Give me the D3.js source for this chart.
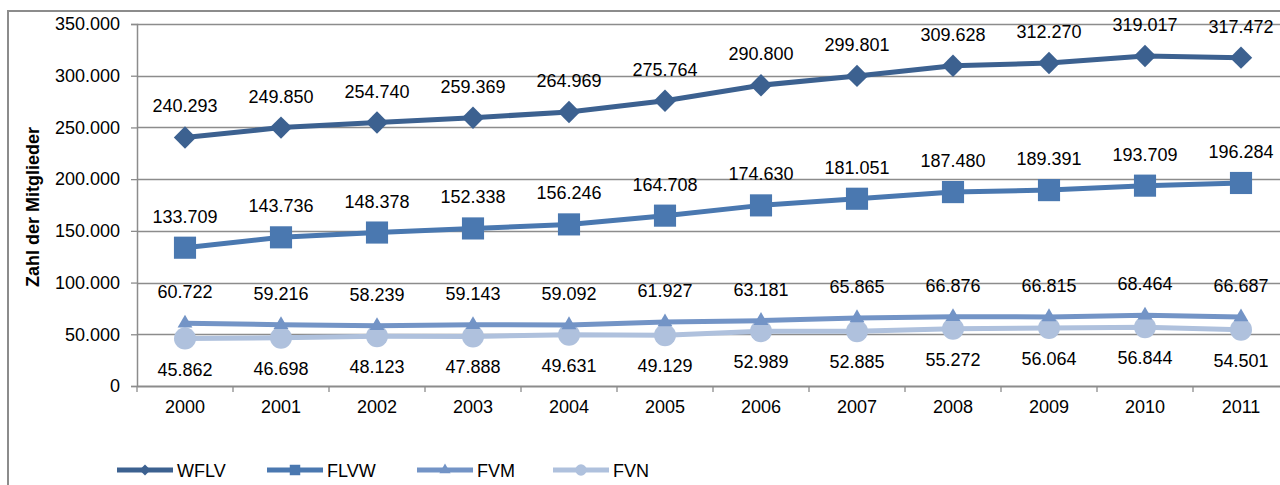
<!DOCTYPE html>
<html>
<head>
<meta charset="utf-8">
<script src="https://cdn.jsdelivr.net/npm/d3@7"></script>
<style>
  html, body { margin: 0; padding: 0; background: #fff; }
  svg { display: block; font-family: "Liberation Sans", Arial, sans-serif; }
</style>
</head>
<body>
<svg id="chart" width="1280" height="485"></svg>
<script>
// Mitgliederzahlen der Verbände 2000–2011
const years = ["2000","2001","2002","2003","2004","2005","2006","2007","2008","2009","2010","2011"];
const wflv = [240293, 249850, 254740, 259369, 264969, 275764, 290800, 299801, 309628, 312270, 319017, 317472];
const flvw = [133709, 143736, 148378, 152338, 156246, 164708, 174630, 181051, 187480, 189391, 193709, 196284];
const fvm  = [60722, 59216, 58239, 59143, 59092, 61927, 63181, 65865, 66876, 66815, 68464, 66687];
const fvn  = [45862, 46698, 48123, 47888, 49631, 49129, 52989, 52885, 55272, 56064, 56844, 54501];
const yTicks = [0, 50000, 100000, 150000, 200000, 250000, 300000, 350000];
const seriesNames = ["WFLV", "FLVW", "FVM", "FVN"];

// Square turned by 45°, as wide as it is tall
const symbolRhomb = {
  draw(ctx, size) {
    const r = Math.sqrt(size / 2);
    ctx.moveTo(0, -r); ctx.lineTo(r, 0); ctx.lineTo(0, r); ctx.lineTo(-r, 0); ctx.closePath();
  }
};

const series = [
  { name: seriesNames[0], values: wflv, color: "#3c6190", symbol: symbolRhomb, size: 250, legendSize: 60, labelPos: "above" },
  { name: seriesNames[1], values: flvw, color: "#4a78b0", symbol: d3.symbolSquare, size: 490, legendSize: 110, labelPos: "above" },
  { name: seriesNames[2], values: fvm,  color: "#7394c6", symbol: d3.symbolTriangle, size: 95, legendSize: 55, labelPos: "above" },
  { name: seriesNames[3], values: fvn,  color: "#afc1dd", symbol: d3.symbolCircle, size: 380, legendSize: 100, labelPos: "below" }
];

const FS = 18;
const svg = d3.select("#chart");
const fmt = d3.formatLocale({ decimal: ",", thousands: ".", grouping: [3], currency: ["", "€"] }).format(",d");

// Plot area
const plotLeft = 137, plotTop = 24, plotBottom = 386;
const bandW = 96;
const x = d3.scaleBand().domain(years).range([plotLeft, plotLeft + bandW * years.length]);
const y = d3.scaleLinear().domain([0, 350000]).range([plotBottom, plotTop]);

// Outer frame (left and top edges visible)
svg.append("path")
  .attr("d", "M8,485 L8,11 L1280,11")
  .attr("fill", "none").attr("stroke", "#8c8c8c").attr("stroke-width", 2);

// Gridlines
svg.append("g").selectAll("line").data(yTicks.filter(t => t > 0)).join("line")
  .attr("x1", plotLeft).attr("x2", 1280)
  .attr("y1", d => Math.round(y(d)) + 0.5).attr("y2", d => Math.round(y(d)) + 0.5)
  .attr("stroke", "#8c8c8c").attr("stroke-width", 1.3);

// Y axis
const yAxis = svg.append("g").attr("transform", `translate(${plotLeft},0)`)
  .call(d3.axisLeft(y).tickValues(yTicks).tickSize(6).tickPadding(11).tickFormat(d => fmt(d)));
yAxis.select(".domain").attr("stroke", "#8c8c8c").attr("stroke-width", 1.5);
yAxis.selectAll(".tick line").attr("stroke", "#8c8c8c").attr("stroke-width", 1.3);
yAxis.selectAll("text").attr("font-size", FS).attr("fill", "#000")
  .attr("font-family", "'Liberation Sans', Arial, sans-serif");

// X axis
const xAxis = svg.append("g").attr("transform", `translate(0,${plotBottom})`)
  .call(d3.axisBottom(x).tickSize(0).tickPadding(14));
xAxis.select(".domain").attr("stroke", "#8c8c8c").attr("stroke-width", 1.8);
xAxis.selectAll("text").attr("font-size", FS).attr("fill", "#000")
  .attr("font-family", "'Liberation Sans', Arial, sans-serif");
// Category separators
svg.append("g").selectAll("line").data(years).join("line")
  .attr("x1", d => x(d)).attr("x2", d => x(d))
  .attr("y1", plotBottom).attr("y2", plotBottom + 6)
  .attr("stroke", "#8c8c8c").attr("stroke-width", 1.3);

// Axis title
svg.append("text")
  .attr("transform", `translate(39,207) rotate(-90)`)
  .attr("text-anchor", "middle")
  .attr("font-size", FS).attr("font-weight", "bold")
  .text("Zahl der Mitglieder");

const cx = d => x(d) + x.bandwidth() / 2;
const line = d3.line().x((v, i) => cx(years[i])).y(v => y(v));

// Lines (drawn back to front so the upper series sit on top)
[...series].reverse().forEach(s => {
  const g = svg.append("g");
  g.append("path").datum(s.values)
    .attr("d", line).attr("fill", "none")
    .attr("stroke", s.color).attr("stroke-width", 5).attr("stroke-linejoin", "round");
  g.selectAll("path.m").data(s.values).join("path").attr("class", "m")
    .attr("d", d3.symbol().type(s.symbol).size(s.size))
    .attr("transform", (v, i) => `translate(${cx(years[i])},${y(v)})`)
    .attr("fill", s.color);
});

// Data labels
series.forEach(s => {
  svg.append("g").selectAll("text").data(s.values).join("text")
    .attr("x", (v, i) => cx(years[i]))
    .attr("y", v => s.labelPos === "above" ? y(v) - 25 : y(v) + 37)
    .attr("text-anchor", "middle")
    .attr("font-size", FS).attr("fill", "#000")
    .text(v => fmt(v));
});

// Legend
const legendX = [117, 267, 417, 553];
series.forEach((s, i) => {
  const g = svg.append("g").attr("transform", `translate(${legendX[i]},470)`);
  g.append("line").attr("x1", 0).attr("x2", 56).attr("y1", 0).attr("y2", 0)
    .attr("stroke", s.color).attr("stroke-width", 5);
  g.append("path").attr("d", d3.symbol().type(s.symbol).size(s.legendSize))
    .attr("transform", "translate(28,0)").attr("fill", s.color);
  g.append("text").attr("x", 60).attr("y", 7).attr("font-size", FS).text(s.name);
});
</script>
</body>
</html>
